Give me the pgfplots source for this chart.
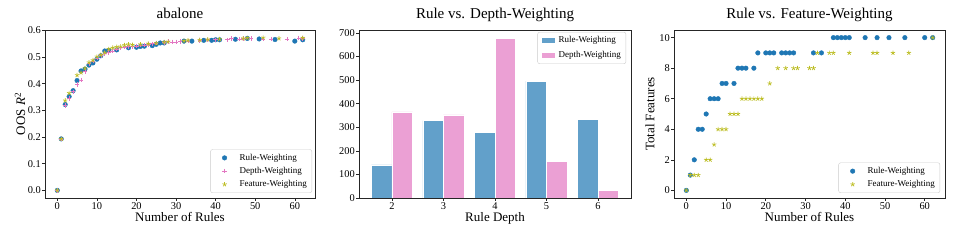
\documentclass[border=0pt]{standalone}
\usepackage{pgfplots}
\pgfplotsset{compat=1.18}
\usepackage{fontspec}
\setmainfont{Liberation Serif}
\definecolor{tabblue}{HTML}{1F77B4}
\definecolor{tabpink}{HTML}{E377C2}
\definecolor{tabolive}{HTML}{BCBD22}
\definecolor{barblue}{HTML}{62A0CA}
\definecolor{barpink}{HTML}{EBA0D4}

\pgfplotsset{
  base/.style={
    scale only axis, height=168pt,
    anchor=south west,
    axis line style={black!85, line width=0.6pt},
    tick align=outside, tick pos=left,
    major tick length=3pt,
    every tick/.style={black!85, line width=0.6pt},
    tick label style={font=\fontsize{10.4}{12}\selectfont},
    xticklabel style={inner sep=1pt},
    yticklabel style={inner sep=1pt},
    /pgf/number format/assume math mode=true,
    title style={font=\fontsize{15}{17}\selectfont, at={(axis description cs:0.5,1)}, anchor=base, yshift=5pt},
    xlabel style={font=\fontsize{13}{15}\selectfont, at={(axis description cs:0.5,0)}, anchor=base, yshift=-24pt},
    legend style={font=\fontsize{9}{10.5}\selectfont, draw=black!20, rounded corners=2pt, fill=white, fill opacity=0.8, text opacity=1, row sep=1.5pt, inner xsep=3pt, inner ysep=2.5pt},
    legend cell align=left,
    legend image post style={fill opacity=1, draw opacity=1},
  },
  mlegend/.style={legend image code/.code={\path[draw=none,fill=none] (0pt,-2pt) rectangle (24pt,2pt); \draw[##1, sharp corners] plot coordinates {(11pt,0pt)};}},
  blegend/.style={legend image code/.code={\path[draw=none,fill=none] (0pt,-3pt) rectangle (16pt,3pt); \draw[##1, sharp corners] (1pt,-3pt) rectangle (15pt,3pt);}},
  rw/.style={only marks, mark=*, mark size=2.3pt, mark options={draw=tabblue, fill=tabblue}, mlegend},
  dw/.style={only marks, mark=+, mark size=2.2pt, mark options={draw=tabpink, line width=0.6pt}, mlegend},
  fw/.style={only marks, mark=star, mark size=2.3pt, mark options={draw=tabolive, fill=tabolive, line width=0.7pt}, mlegend},
}

\begin{document}
\begin{tikzpicture}
\useasboundingbox (0,0) rectangle (959pt,240pt);

% Panel 1
\begin{axis}[base, at={(45pt,42pt)}, width=270pt,
  title={abalone},
  xlabel={Number of Rules},
  ylabel={OOS \textit{R}\textsuperscript{2}},
  ylabel style={font=\fontsize{13}{15}\selectfont, at={(axis description cs:-0.0926,0.5)}, anchor=center},
  xmin=-3.1, xmax=65.1, ymin=-0.0287, ymax=0.6017,
  xtick={0,10,...,60}, ytick={0,0.1,...,0.6},
  yticklabel style={/pgf/number format/.cd, fixed, fixed zerofill, precision=1},
  legend style={at={(axis description cs:0.989,0.03)}, anchor=south east},
]
\addplot[rw] coordinates {
(0,0) (1,0.193) (2,0.322) (3,0.352) (4,0.374) (5,0.412) (6,0.448) (7,0.455) (8,0.470) (9,0.478) (10,0.492) (11,0.505) (12,0.523) (13,0.525) (15,0.527) (18,0.535) (20,0.537) (21,0.540) (22,0.541) (24,0.543) (25,0.548) (26,0.553) (27,0.553) (32,0.560) (34,0.560) (37,0.563) (39,0.563) (40,0.565) (41,0.565) (45,0.567) (48,0.570) (51,0.568) (55,0.566) (60,0.560) (62,0.565)
};
\addlegendentry{Rule-Weighting}
\addplot[dw] coordinates {
(0,0) (1,0.193) (2,0.318) (3,0.345) (4,0.370) (5,0.397) (6,0.414) (7,0.446) (8,0.475) (9,0.485) (10,0.497) (11,0.505) (12,0.513) (13,0.518) (14,0.522) (15,0.530) (16,0.535) (17,0.537) (18,0.540) (19,0.540) (20,0.542) (21,0.545) (22,0.545) (23,0.548) (24,0.550) (25,0.552) (27,0.555) (28,0.558) (29,0.557) (30,0.557) (31,0.558) (33,0.560) (36,0.562) (38,0.565) (40,0.565) (43,0.565) (44,0.570) (46,0.567) (47,0.570) (49,0.570) (52,0.568) (54,0.568) (58,0.567) (61,0.572) (62,0.570)
};
\addlegendentry{Depth-Weighting}
\addplot[fw] coordinates {
(0,0) (1,0.193) (2,0.337) (3,0.365) (5,0.432) (6,0.442) (7,0.458) (8,0.480) (9,0.488) (10,0.502) (11,0.508) (12,0.517) (13,0.530) (14,0.535) (15,0.538) (16,0.540) (17,0.545) (18,0.548) (19,0.546) (21,0.548) (23,0.550) (25,0.552) (27,0.556) (28,0.558) (32,0.561) (33,0.563) (36,0.564) (38,0.566) (41,0.567) (47,0.570) (48,0.572) (52,0.573) (56,0.570) (62,0.572)
};
\addlegendentry{Feature-Weighting}
\end{axis}

% Panel 2
\begin{axis}[base, at={(359pt,42pt)}, width=272pt,
  title={Rule vs. Depth-Weighting},
  xlabel={Rule Depth},
  xmin=1.36, xmax=6.64, ymin=0, ymax=712,
  xtick={2,3,4,5,6}, ytick={0,100,...,700},
  legend style={at={(axis description cs:0.982,0.988)}, anchor=north east, row sep=3pt},
]
\addplot[ybar, bar width=0.4, bar shift=-0.2, fill=barblue, draw=white, line width=0.3pt, blegend] coordinates {
(2,140) (3,328) (4,278) (5,495) (6,333)
};
\addlegendentry{Rule-Weighting}
\addplot[ybar, bar width=0.4, bar shift=0.2, fill=barpink, draw=white, line width=0.3pt, blegend] coordinates {
(2,365) (3,352) (4,678) (5,155) (6,32)
};
\addlegendentry{Depth-Weighting}
\end{axis}

% Panel 3
\begin{axis}[base, at={(674pt,42pt)}, width=271pt,
  title={Rule vs. Feature-Weighting},
  xlabel={Number of Rules},
  ylabel={Total Features},
  ylabel style={font=\fontsize{13}{15}\selectfont, at={(axis description cs:-0.0886,0.5)}, anchor=center},
  xmin=-3.1, xmax=65.1, ymin=-0.5, ymax=10.5,
  xtick={0,10,...,60}, ytick={0,2,...,10},
  legend style={at={(axis description cs:0.982,0.03)}, anchor=south east},
]
\addplot[rw] coordinates {
(0,0) (1,1) (2,2) (3,4) (4,4) (5,5) (6,6) (7,6) (8,6) (9,7) (10,7) (12,7) (13,8) (14,8) (15,8) (17,8) (18,9) (20,9) (21,9) (22,9) (24,9) (25,9) (26,9) (27,9) (32,9) (34,9) (37,10) (38,10) (39,10) (40,10) (41,10) (45,10) (48,10) (51,10) (55,10) (60,10) (62,10)
};
\addlegendentry{Rule-Weighting}
\addplot[fw] coordinates {
(0,0) (1,1) (2,1) (3,1) (5,2) (6,2) (7,3) (8,4) (9,4) (10,4) (11,5) (12,5) (13,5) (14,6) (15,6) (16,6) (17,6) (18,6) (19,6) (21,7) (23,8) (25,8) (27,8) (28,8) (31,8) (32,8) (33,9) (36,9) (37,9) (41,9) (47,9) (48,9) (52,9) (56,9) (62,10)
};
\addlegendentry{Feature-Weighting}
\end{axis}
\end{tikzpicture}
\end{document}
